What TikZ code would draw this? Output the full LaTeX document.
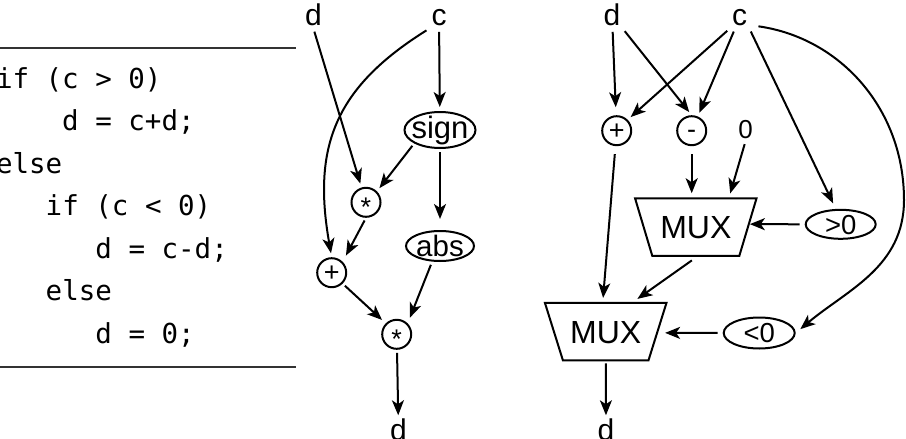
\documentclass[tikz,border=0pt]{standalone}
\usepackage{fontspec}
\setmainfont{Liberation Sans}
\setmonofont{DejaVu Sans Mono}
\usetikzlibrary{arrows.meta,shapes.geometric,calc}
\newcommand\ctrtxt[2]{\raisebox{#1}[0pt][0pt]{\makebox[0pt]{#2}}}
\begin{document}
\begin{tikzpicture}[x=1pt,y=1pt,line width=2pt,
  lbl/.style={inner sep=1.5pt,font=\fontsize{30}{30}\selectfont},
  opc/.style={circle,draw,minimum size=29pt,inner sep=0pt,font=\fontsize{27}{27}\selectfont},
  oval/.style={ellipse,draw,inner sep=0pt,font=\fontsize{31}{31}\selectfont},
  muxbox/.style={rectangle,minimum width=119.5pt,minimum height=55.5pt,inner sep=0pt,
    font=\fontsize{32}{32}\selectfont},
  arr/.style={-{Stealth[length=15pt,width=12pt,inset=4pt]},line width=2pt,shorten >=4pt,shorten <=3pt},
  code/.style={anchor=base west,inner sep=0pt,font=\ttfamily\fontsize{27.5}{27.5}\selectfont},
  rulel/.style={line width=1.6pt,black!80}
]
\useasboundingbox (0,0) rectangle (906,-439);

% code listing
\coordinate (r1a) at (-2,-48); \coordinate (r1b) at (296,-48);
\coordinate (r2a) at (-2,-367); \coordinate (r2b) at (296,-367);
\draw[rulel] (r1a) -- (r1b);
\draw[rulel] (r2a) -- (r2b);
\node[code] (l1) at (-5,-88) {if (c > 0)};
\node[code] (l2) at (61.2,-130.5) {d = c+d;};
\node[code] (l3) at (-5,-173) {else};
\node[code] (l4) at (44.7,-215.5) {if (c < 0)};
\node[code] (l5) at (94.4,-258) {d = c-d;};
\node[code] (l6) at (44.7,-300.5) {else};
\node[code] (l7) at (94.4,-343) {d = 0;};

% middle graph
\node[lbl,anchor=base] (d1) at (313.5,-26) {d};
\node[lbl,anchor=base] (c1) at (439,-26) {c};
\node[oval,minimum width=71pt,minimum height=36pt] (sign) at (440,-130) {\ctrtxt{-0.26em}{sign}};
\node[oval,minimum width=68pt,minimum height=30pt,font=\fontsize{29.5}{29.5}\selectfont] (abs) at (440,-246) {\ctrtxt{-0.36em}{abs}};
\node[opc] (m1) at (366,-202.3) {\ctrtxt{-0.52em}{*}};
\node[opc] (p1) at (331.7,-272.7) {\ctrtxt{-0.33em}{+}};
\node[opc] (m2) at (396.7,-334.3) {\ctrtxt{-0.52em}{*}};
\node[lbl,anchor=base] (d2) at (398.5,-440.5) {d};

\draw[arr] (d1.south) -- (m1);
\draw[arr] (c1.south west) to[out=212,in=100,looseness=1.15] (p1.north);
\draw[arr] (c1) -- (sign);
\draw[arr] (sign.south west) -- (m1.north east);
\draw[arr,shorten >=11pt] (sign) -- (abs);
\draw[arr,shorten >=7pt] (m1.south) -- (p1.north east);
\draw[arr,shorten >=5pt] (p1.south east) -- (m2.north west);
\draw[arr,shorten >=6pt] ([xshift=-8pt]abs.south) -- (m2.north east);
\draw[arr,shorten >=1pt] (m2) -- (d2);

% right graph
\node[lbl,anchor=base] (d3) at (612,-26) {d};
\node[lbl,anchor=base] (c3) at (739.5,-26) {c};
\node[opc] (p2) at (616.7,-130.7) {\ctrtxt{-0.33em}{+}};
\node[opc] (s2) at (691.7,-130.7) {\ctrtxt{-0.3em}{-}};
\node[lbl,anchor=base,font=\fontsize{26}{26}\selectfont] (z) at (745.5,-138.5) {0};
\node[muxbox] (mux1) at (695.8,-227) {\ctrtxt{-0.36em}{MUX}};
\draw (mux1.north west) -- (mux1.north east) -- ([xshift=-17.2pt]mux1.south east)
  -- ([xshift=17.2pt]mux1.south west) -- cycle;
\node[oval,minimum width=70pt,minimum height=29pt,font=\fontsize{27.5}{27.5}\selectfont] (gt) at (840.7,-224.3) {\ctrtxt{-0.36em}{>0}};
\node[muxbox] (mux2) at (605.7,-331.7) {\ctrtxt{-0.36em}{MUX}};
\draw (mux2.north west) -- (mux2.north east) -- ([xshift=-18pt]mux2.south east)
  -- ([xshift=18pt]mux2.south west) -- cycle;
\node[oval,minimum width=71pt,minimum height=31pt,font=\fontsize{27.5}{27.5}\selectfont] (lt) at (759.2,-333) {\ctrtxt{-0.36em}{<0}};
\node[lbl,anchor=base] (d4) at (606,-440.5) {d};
\coordinate (arcR) at (904,-200);

\draw[arr,shorten >=8pt] (d3) -- (p2);
\draw[arr] (d3.south east) -- (s2.north);
\draw[arr] (c3.south west) -- (p2.north east);
\draw[arr] (c3) -- (s2);
\draw[arr,shorten >=6pt] (c3.south east) -- ([xshift=-5pt]gt.north);
\draw[arr,shorten <=9pt,shorten >=6pt] ([yshift=-7pt]c3.east) to[out=-8,in=90] (arcR) to[out=-90,in=40] (lt.east);
\draw[arr,shorten <=8pt,shorten >=5pt] (s2) -- (s2 |- mux1.north);
\draw[arr,shorten >=5pt] (z.south) -- ([xshift=33pt]mux1.north);
\draw[arr,shorten >=1pt,shorten <=5pt] (gt.west) -- ($(mux1.north east)!0.45!([xshift=-17.2pt]mux1.south east)$);
\draw[arr,shorten >=5pt,shorten <=8pt] (p2) -- ([xshift=-3pt]mux2.north);
\draw[arr,shorten <=8pt,shorten >=7pt] ([xshift=2.6pt]mux1.south) -- ([xshift=26pt]mux2.north);
\draw[arr,shorten <=5pt,shorten >=8pt] (lt.west) -- ($(mux2.north east)!0.52!([xshift=-18pt]mux2.south east)$);
\draw[arr,shorten >=1pt] (mux2) -- (d4);
\end{tikzpicture}
\end{document}
